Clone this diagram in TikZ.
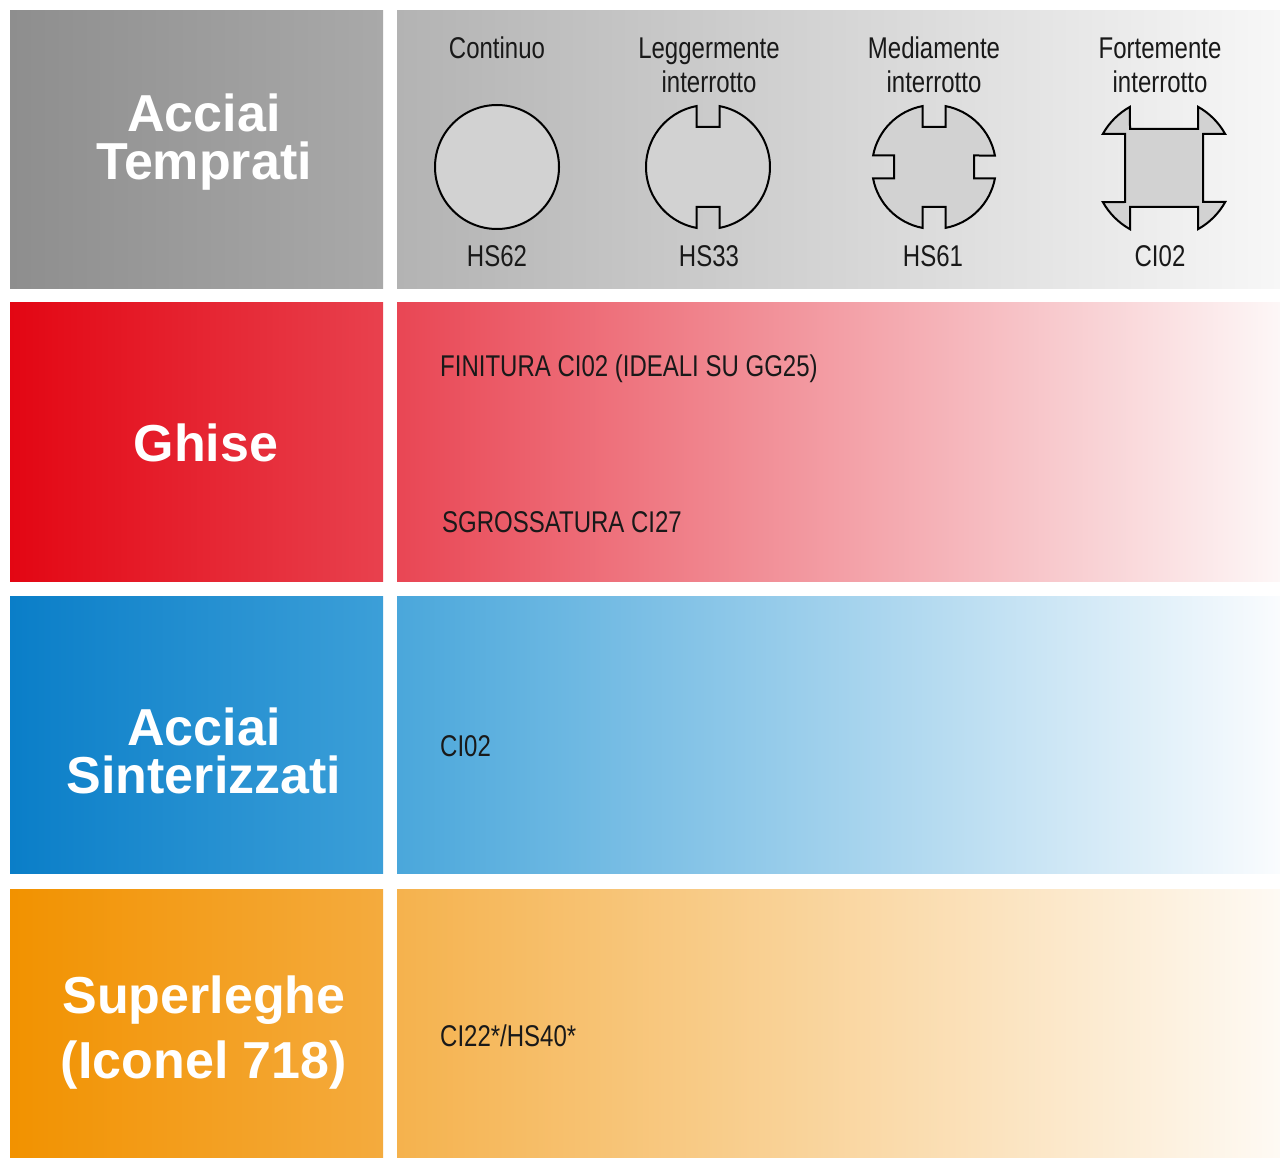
\documentclass[tikz,border=0pt]{standalone}
\usepackage{fontspec}
\setmainfont{Liberation Sans}
\newfontfamily\condfont[FakeStretch=0.80]{Liberation Sans}
\usetikzlibrary{positioning}

\definecolor{grayA}{HTML}{8E8E8E}
\definecolor{grayB}{HTML}{A9A9A9}
\definecolor{grayC}{HTML}{B3B3B3}
\definecolor{grayD}{HTML}{F7F7F7}
\definecolor{redA}{HTML}{E30613}
\definecolor{redB}{HTML}{E8414E}
\definecolor{redC}{HTML}{E94654}
\definecolor{redD}{HTML}{FDF7F7}
\definecolor{blueA}{HTML}{0A7EC8}
\definecolor{blueB}{HTML}{3C9FD8}
\definecolor{blueC}{HTML}{4AA7DB}
\definecolor{blueD}{HTML}{FAFCFE}
\definecolor{orA}{HTML}{F29200}
\definecolor{orB}{HTML}{F4AB3E}
\definecolor{orC}{HTML}{F5B24D}
\definecolor{orD}{HTML}{FEFAF4}

\begin{document}
\begin{tikzpicture}[x=1pt,y=-1pt,
		matbox/.style={anchor=north west,minimum width=373pt,inner sep=0pt,outer sep=0pt},
		toolbox/.style={anchor=north west,minimum width=883pt,inner sep=0pt,outer sep=0pt},
		head/.style={text=white,font=\bfseries\fontsize{52}{48}\selectfont,align=center,anchor=base,inner sep=0pt},
		lbl/.style={font=\condfont\fontsize{30}{34}\selectfont,text=black!90,align=center,anchor=base,inner sep=0pt},
		note/.style={lbl,anchor=base west},
		profile/.style={draw=black,line width=2pt,fill=gray!35,line join=miter}]
		\useasboundingbox[fill=white] (0,0) rectangle (1280,1158);

		% material boxes
		\node[matbox,minimum height=278pt,left color=grayA,right color=grayB] (tempL) at (10,11) {};
		\node[matbox,minimum height=278pt,left color=redA,right color=redB] (ghiL) at (10,303) {};
		\node[matbox,minimum height=277pt,left color=blueA,right color=blueB] (sintL) at (10,596) {};
		\node[matbox,minimum height=269pt,left color=orA,right color=orB] (supL) at (10,889) {};

		% tool boxes
		\node[toolbox,minimum height=278pt,left color=grayC,right color=grayD] (tempR) at (397,11) {};
		\node[toolbox,minimum height=278pt,left color=redC,right color=redD] (ghiR) at (397,303) {};
		\node[toolbox,minimum height=277pt,left color=blueC,right color=blueD] (sintR) at (397,596) {};
		\node[toolbox,minimum height=269pt,left color=orC,right color=orD] (supR) at (397,889) {};

		% material names (base = last line)
		\node[head] (tempT) at (204,180) {Acciai\\Temprati};
		\node[head] (ghiT) at (206,461) {Ghise};
		\node[head] (sintT) at (204,793) {Acciai\\Sinterizzati};
		\node[head] (supT) at (204,1078) {Superleghe\\[15pt](Iconel 718)};

		% cut types
		\node[lbl] (contT) at (497,59) {Continuo};
		\node[lbl] (leggT) at (709,93) {Leggermente\\interrotto};
		\node[lbl] (mediT) at (934,93) {Mediamente\\interrotto};
		\node[lbl] (forteT) at (1160,93) {Fortemente\\interrotto};

		% profiles
		\draw[profile,shift={(497,167)}] (0,0) circle[radius=62];
		\draw[profile,shift={(708,167)}] (11.5,-60.9) arc[start angle=-79.3,end angle=79.3,radius=62]
			-- (11.5,40) -- (-11.5,40) -- (-11.5,60.9)
			arc[start angle=100.7,end angle=259.3,radius=62]
			-- (-11.5,-40) -- (11.5,-40) -- cycle;
		\draw[profile,shift={(934,167)}] (11.5,-60.9) arc[start angle=-79.3,end angle=-10.7,radius=62]
			-- (40,-11.5) -- (40,11.5) -- (60.9,11.5)
			arc[start angle=10.7,end angle=79.3,radius=62]
			-- (11.5,40) -- (-11.5,40) -- (-11.5,60.9)
			arc[start angle=100.7,end angle=169.3,radius=62]
			-- (-40,11.5) -- (-40,-11.5) -- (-60.9,-11.5)
			arc[start angle=190.7,end angle=259.3,radius=62]
			-- (-11.5,-40) -- (11.5,-40) -- cycle;
		\draw[profile,shift={(1164,168)}] (34,-39) -- (34,-61.2)
			arc[start angle=-60.9,end angle=-29.1,radius=70]
			-- (39,-34) -- (39,34) -- (61.2,34)
			arc[start angle=29.1,end angle=60.9,radius=70]
			-- (34,39) -- (-34,39) -- (-34,61.2)
			arc[start angle=119.1,end angle=150.9,radius=70]
			-- (-39,34) -- (-39,-34) -- (-61.2,-34)
			arc[start angle=209.1,end angle=240.9,radius=70]
			-- (-34,-39) -- cycle;

		% tool codes
		\node[lbl] (hs62) at (497,267) {HS62};
		\node[lbl] (hs33) at (709,267) {HS33};
		\node[lbl] (hs61) at (933,267) {HS61};
		\node[lbl] (ci02) at (1160,267) {CI02};

		\node[note] (finT) at (440,377) {FINITURA CI02 (IDEALI SU GG25)};
		\node[note] (sgrT) at (442,532) {SGROSSATURA CI27};
		\node[note] (sintC) at (440,756) {CI02};
		\node[note] (supC) at (440,1046) {CI22*/HS40*};
	\end{tikzpicture}
\end{document}
